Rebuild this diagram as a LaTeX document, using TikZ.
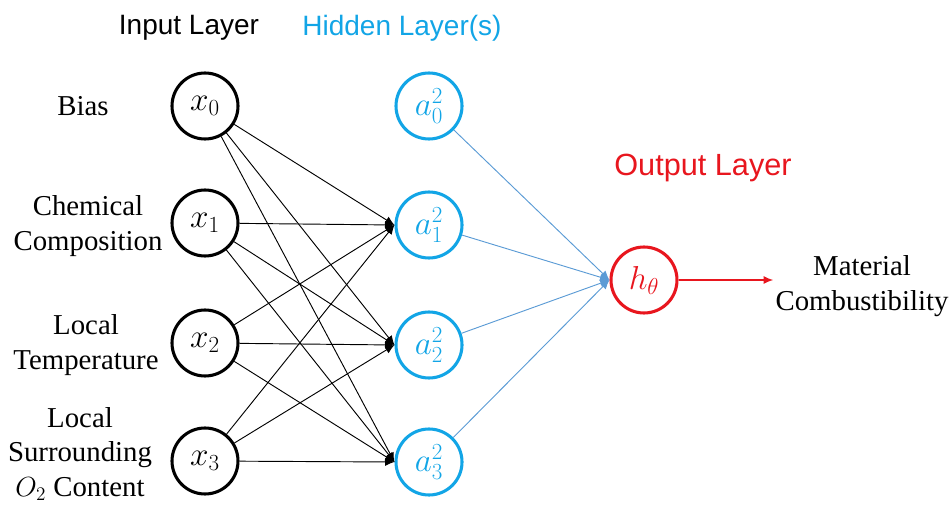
\documentclass[tikz,border=0pt]{standalone}
\usepackage{fontspec}
\setmainfont{Liberation Serif}
\newfontfamily\arialf{Liberation Sans}
\usetikzlibrary{arrows.meta}
\definecolor{hidblue}{HTML}{12A5E6}
\definecolor{edgeblue}{HTML}{5B9BD5}
\definecolor{outred}{HTML}{E8161E}
\begin{document}
\begin{tikzpicture}[x=0.75pt,y=-0.75pt,
  nd/.style={circle,line width=2.3pt,minimum size=66*0.75pt,inner sep=0pt,font=\fontsize{25}{27}\selectfont},
  inp/.style={nd,draw=black},
  hid/.style={nd,draw=hidblue,text=hidblue},
  outn/.style={nd,draw=outred,text=outred},
  lbl/.style={align=center,font=\fontsize{21.6}{26}\selectfont,inner sep=0pt},
  ttl/.style={font=\arialf\fontsize{21}{24}\selectfont,inner sep=0pt},
  blk/.style={line width=0.7pt,-{Latex[length=7pt,width=6pt]}},
  blu/.style={edgeblue,line width=0.7pt,-{Latex[length=7pt,width=6pt]}},
  red/.style={outred,line width=0.8pt,-{Latex[length=7pt,width=6pt]}}]
\useasboundingbox (0,0) rectangle (950,506);
\node[ttl] (tin) at (189,28) {Input Layer};
\node[ttl,text=hidblue] (thid) at (402,28) {Hidden Layer(s)};
\node[ttl,text=outred,font=\arialf\fontsize{23}{26}\selectfont] (tout) at (703,168) {Output Layer};

\node[inp] (x0) at (205,106) {$x_0$};
\node[inp] (x1) at (205,223) {$x_1$};
\node[inp] (x2) at (205,343) {$x_2$};
\node[inp] (x3) at (205,461) {$x_3$};

\node[hid] (a0) at (429,106) {$a_0^2$};
\node[hid] (a1) at (429,225) {$a_1^2$};
\node[hid] (a2) at (429,345) {$a_2^2$};
\node[hid] (a3) at (429,462) {$a_3^2$};

\node[outn] (h) at (644,280) {$h_\theta$};

\node[lbl] (l0) at (83,106) {Bias};
\node[lbl] (l1) at (88,226) {Chemical\\Composition};
\node[lbl] (l2) at (86,345) {Local\\Temperature};
\node[lbl] (l3) at (80,454) {Local\\Surrounding\\$O_2$ Content};
\node[lbl] (lo) at (862,286) {Material\\Combustibility};
\coordinate (oend) at (773,280);

\foreach \i in {0,1,2,3}{
  \foreach \j in {1,2,3}{
    \draw[blk] (x\i) -- (a\j.west);
  }
  \draw[blu] (a\i) -- (h.west);
}
\draw[red] (h) -- (oend);
\end{tikzpicture}
\end{document}
